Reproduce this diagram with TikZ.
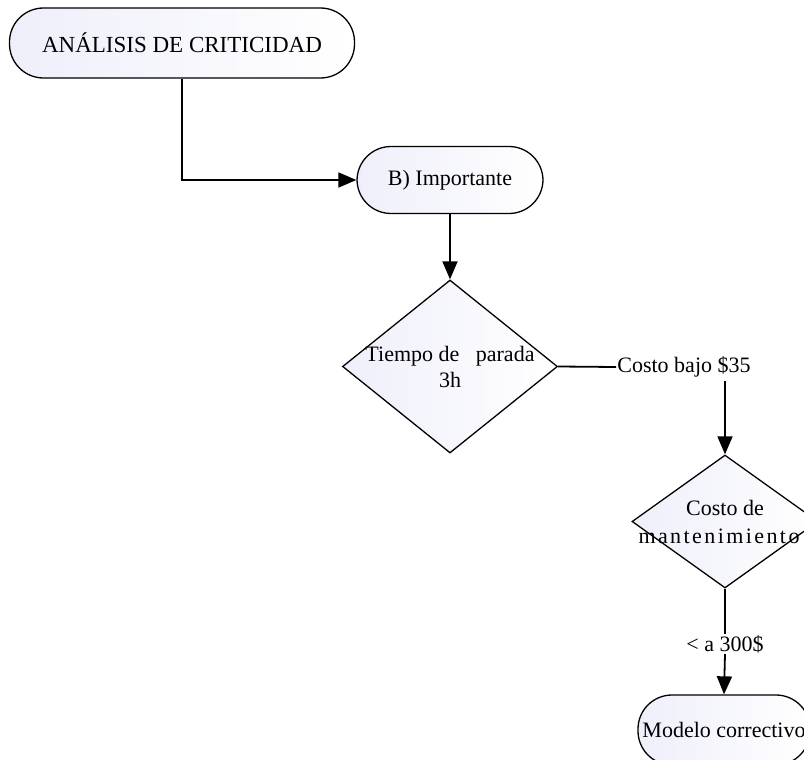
\documentclass[tikz,border=0pt]{standalone}
\usepackage{fontspec}
\setmainfont{Liberation Serif}
\usetikzlibrary{shapes.geometric,arrows.meta}
\definecolor{lav}{RGB}{238,239,250}
\tikzset{
  boxfill/.style={left color=lav, right color=white, draw=black, line width=1.3pt},
  term/.style={boxfill, rectangle, rounded corners=34pt, inner sep=0pt},
  decision/.style={boxfill, diamond, inner sep=0pt},
  intext/.style={align=center, inner sep=0pt},
  lbl/.style={inner sep=1pt},
  flow/.style={line width=1.8pt, -{Triangle[length=18pt,width=15pt]}},
  plain/.style={line width=1.8pt},
}
\begin{document}
\begin{tikzpicture}[x=1pt,y=-1pt,font=\fontsize{22}{25}\selectfont]
\useasboundingbox (0,0) rectangle (804,760);
\clip (0,0) rectangle (804,760);
\node[term, minimum width=345pt, minimum height=70pt] (a) at (182,43) {\fontsize{23}{26}\selectfont ANÁLISIS DE CRITICIDAD};
\node[term, minimum width=186pt, minimum height=67pt] (b) at (450,180) {B) Importante};
\node[decision, minimum width=215pt, minimum height=173pt,
  label={[intext]center:Tiempo de\ \ \ parada\\[1pt]3h}] (d1) at (450,366.5) {};
\node[lbl] (l1) at (684,367) {Costo bajo \$35};
\node[decision, minimum width=186pt, minimum height=133pt,
  label={[intext, xshift=-6pt]center:\hspace*{12pt}Costo de\\[3pt]{\addfontfeatures{LetterSpace=11}mantenimiento}}] (d2) at (725,521.5) {};
\node[lbl] (l2) at (725,644) {< a 300\$};
\node[term, minimum width=172pt, minimum height=70pt] (m) at (724,730) {Modelo correctivo};
\coordinate (c1) at (725,381);
\draw[flow] (a.south) |- (b.west);
\draw[flow] (b.south) -- (d1.north);
\draw[plain] (d1.east) -- (l1.west);
\draw[flow] (c1) -- (d2.north);
\draw[plain] (d2.south) -- (l2.north);
\draw[flow] (l2.south) -- (m.north);
\end{tikzpicture}
\end{document}
